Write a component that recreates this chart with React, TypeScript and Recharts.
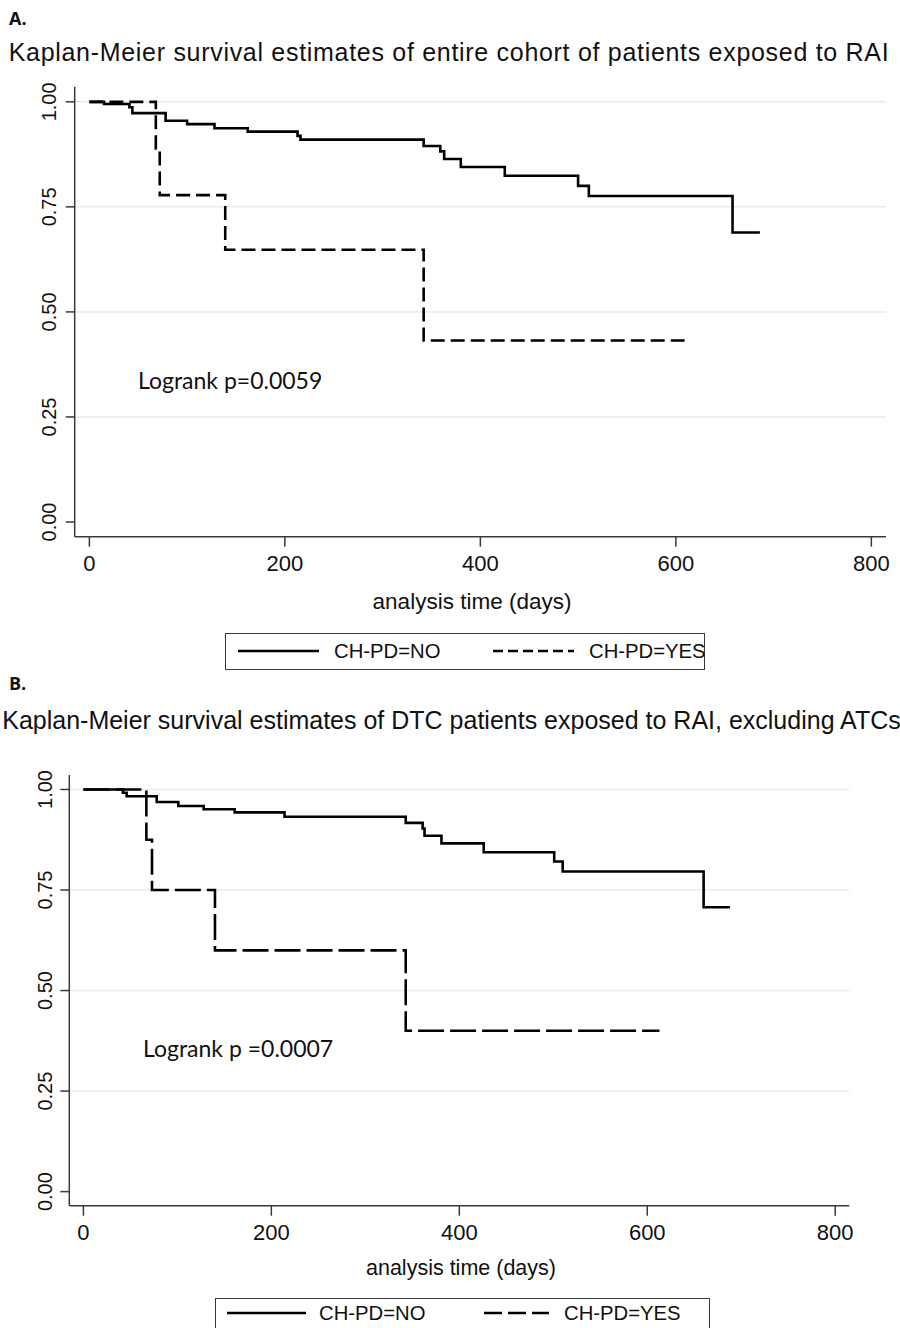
import React from 'react'
import { LineChart, Line, XAxis, YAxis, CartesianGrid } from 'recharts'

// Panel A - entire cohort
const timesANo = [0, 15, 41, 44, 78, 100, 128, 162, 213, 216, 342, 359, 363, 380, 425, 500, 511, 658, 686]
const survANo = [1, 0.995, 0.987, 0.973, 0.955, 0.947, 0.937, 0.929, 0.919, 0.91, 0.895, 0.882, 0.864, 0.845, 0.824, 0.8, 0.776, 0.689, 0.689]
const timesAYes = [0, 68, 72, 139, 342, 609]
const survAYes = [1, 0.889, 0.778, 0.648, 0.432, 0.432]

// Panel B - DTC only
const timesBNo = [0, 42, 46, 78, 101, 128, 161, 214, 343, 361, 363, 381, 426, 501, 510, 660, 688]
const survBNo = [1, 0.992, 0.983, 0.969, 0.959, 0.951, 0.943, 0.932, 0.917, 0.903, 0.885, 0.866, 0.844, 0.821, 0.796, 0.707, 0.707]
const timesBYes = [0, 67, 73, 140, 343, 613]
const survBYes = [1, 0.875, 0.75, 0.6, 0.4, 0.4]

const xTicks = [0, 200, 400, 600, 800]
const yTicks = [0, 0.25, 0.5, 0.75, 1]
const gridValues = [0.25, 0.5, 0.75, 1]

const FONT = '"Liberation Sans", Arial, sans-serif'
const AXIS = '#3a3a3a'
const GRID = '#e4edf1'

const toPoints = (t: number[], s: number[]) => t.map((x, i) => ({ t: x, s: s[i] }))

const YTick = (props: any) => {
  const { x, y, payload } = props
  return (
    <text
      x={x}
      y={y}
      transform={`rotate(-90 ${x} ${y})`}
      textAnchor="middle"
      fontSize={20}
      fontFamily={FONT}
      fill="#111"
    >
      {Number(payload.value).toFixed(2)}
    </text>
  )
}

interface PanelProps {
  top: number
  height: number
  margin: { top: number; right: number; bottom: number; left: number }
  xHeight: number
  yWidth: number
  yTickMargin: number
  no: { t: number; s: number }[]
  yes: { t: number; s: number }[]
  dash: string
}

function Panel({ top, height, margin, xHeight, yWidth, yTickMargin, no, yes, dash }: PanelProps) {
  return (
    <div style={{ position: 'absolute', left: 0, top }}>
      <LineChart width={900} height={height} margin={margin}>
        <CartesianGrid
          vertical={false}
          horizontalValues={gridValues}
          stroke={GRID}
          strokeWidth={1.5}
        />
        <XAxis
          type="number"
          dataKey="t"
          domain={[-15, 815]}
          ticks={xTicks}
          allowDataOverflow
          height={xHeight}
          tickSize={10}
          tickMargin={9}
          axisLine={{ stroke: AXIS, strokeWidth: 1.5 }}
          tickLine={{ stroke: AXIS, strokeWidth: 1.5 }}
          tick={{ fontSize: 22, fontFamily: FONT, fill: '#111' }}
        />
        <YAxis
          type="number"
          dataKey="s"
          domain={[-0.035, 1.036]}
          ticks={yTicks}
          allowDataOverflow
          width={yWidth}
          tickSize={9}
          tickMargin={yTickMargin}
          axisLine={{ stroke: AXIS, strokeWidth: 1.5 }}
          tickLine={{ stroke: AXIS, strokeWidth: 1.5 }}
          tick={<YTick />}
        />
        <Line
          data={no}
          dataKey="s"
          type="stepAfter"
          stroke="#000"
          strokeWidth={2.6}
          dot={false}
          isAnimationActive={false}
        />
        <Line
          data={yes}
          dataKey="s"
          type="stepAfter"
          stroke="#000"
          strokeWidth={2.6}
          strokeDasharray={dash}
          dot={false}
          isAnimationActive={false}
        />
      </LineChart>
    </div>
  )
}

const abs = (left: number, top: number, extra: React.CSSProperties = {}): React.CSSProperties => ({
  position: 'absolute',
  left,
  top,
  whiteSpace: 'nowrap',
  ...extra,
})

function LegendBox({ left, top, width, height, items }: any) {
  return (
    <div
      style={abs(left, top, {
        width,
        height,
        border: `1.5px solid ${AXIS}`,
        boxSizing: 'border-box',
      })}
    >
      {items.map((it: any) => (
        <React.Fragment key={it.label}>
          <svg style={abs(it.lineX - left, 0)} width={it.lineW} height={height - 3}>
            <line
              x1={0}
              x2={it.lineW}
              y1={it.lineY}
              y2={it.lineY}
              stroke="#000"
              strokeWidth={2.6}
              strokeDasharray={it.dash}
            />
          </svg>
          <span
            style={abs(it.textX - left, it.textY, {
              fontFamily: FONT,
              fontSize: 20.3,
              color: '#111',
              lineHeight: '24px',
            })}
          >
            {it.label}
          </span>
        </React.Fragment>
      ))}
    </div>
  )
}

export default function App() {
  const titleStyle: React.CSSProperties = {
    fontFamily: FONT,
    fontSize: 25,
    color: '#111',
    lineHeight: '28px',
  }
  const letterStyle: React.CSSProperties = {
    fontFamily: '"Open Sans", sans-serif',
    fontWeight: 700,
    fontSize: 18,
    color: '#111',
    lineHeight: '22px',
  }
  const noteStyle: React.CSSProperties = {
    fontFamily: 'Lato, "Open Sans", sans-serif',
    fontSize: 23,
    color: '#111',
    lineHeight: '26px',
  }
  const xLabelStyle: React.CSSProperties = {
    fontFamily: FONT,
    color: '#111',
    lineHeight: '26px',
  }

  return (
    <div
      style={{
        position: 'absolute',
        left: 0,
        top: 0,
        width: 900,
        height: 1328,
        overflow: 'hidden',
        background: '#fff',
      }}
    >
      <div style={abs(9, 7, letterStyle)}>A.</div>
      <div style={abs(0, 38, { ...titleStyle, width: 898, textAlign: 'center', letterSpacing: 0.7 })}>
        Kaplan-Meier survival estimates of entire cohort of patients exposed to RAI
      </div>
      <Panel
        top={0}
        height={600}
        margin={{ top: 86.7, right: 14, bottom: 0, left: 0 }}
        xHeight={63.3}
        yWidth={74.7}
        yTickMargin={10}
        no={toPoints(timesANo, survANo)}
        yes={toPoints(timesAYes, survAYes)}
        dash="14 6"
      />
      <div style={abs(138, 367, noteStyle)}>Logrank p=0.0059</div>
      <div style={abs(0, 589, { ...xLabelStyle, fontSize: 22.5, width: 944, textAlign: 'center' })}>
        analysis time (days)
      </div>
      <LegendBox
        left={225}
        top={633}
        width={480}
        height={37}
        items={[
          { label: 'CH-PD=NO', lineX: 237, lineW: 81, lineY: 17, textX: 333, textY: 5, dash: undefined },
          { label: 'CH-PD=YES', lineX: 492, lineW: 81, lineY: 17, textX: 588, textY: 5, dash: '10 5' },
        ]}
      />

      <div style={abs(9, 672, letterStyle)}>B.</div>
      <div style={abs(0, 706, { ...titleStyle, width: 903, textAlign: 'center' })}>
        Kaplan-Meier survival estimates of DTC patients exposed to RAI, excluding ATCs
      </div>
      <Panel
        top={700}
        height={560}
        margin={{ top: 75, right: 50.7, bottom: 0, left: 0 }}
        xHeight={54.3}
        yWidth={69.3}
        yTickMargin={8}
        no={toPoints(timesBNo, survBNo)}
        yes={toPoints(timesBYes, survBYes)}
        dash="26 6"
      />
      <div style={abs(143, 1035, noteStyle)}>Logrank p =0.0007</div>
      <div style={abs(0, 1255, { ...xLabelStyle, fontSize: 21.5, width: 922, textAlign: 'center' })}>
        analysis time (days)
      </div>
      <LegendBox
        left={215}
        top={1298}
        width={495}
        height={40}
        items={[
          { label: 'CH-PD=NO', lineX: 226, lineW: 79, lineY: 14, textX: 318, textY: 2, dash: undefined },
          { label: 'CH-PD=YES', lineX: 483, lineW: 65, lineY: 14, textX: 563, textY: 2, dash: '18 6' },
        ]}
      />
    </div>
  )
}
